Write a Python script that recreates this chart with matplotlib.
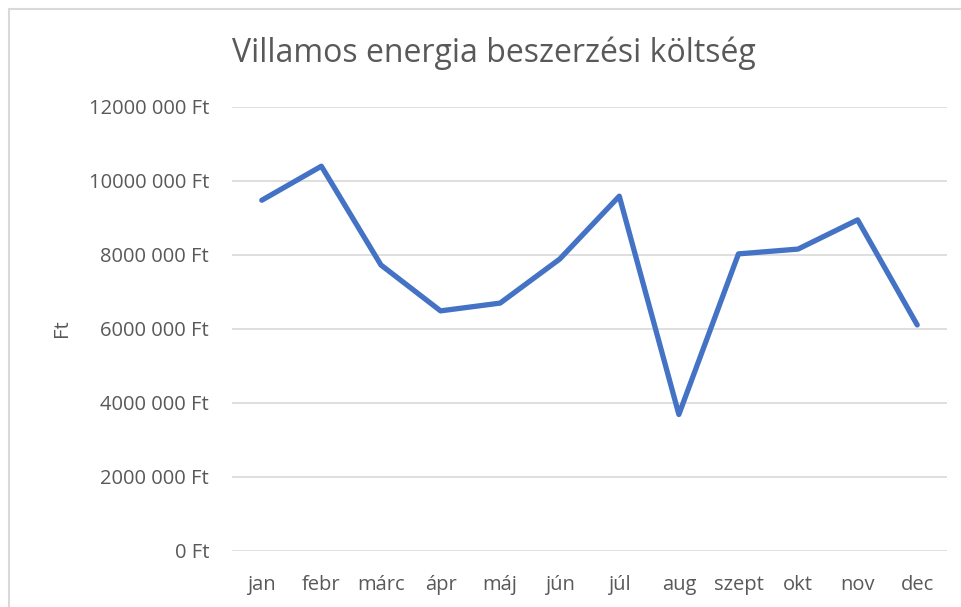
import matplotlib.pyplot as plt
from matplotlib.patches import Rectangle

months = ["jan", "febr", "márc", "ápr", "máj", "jún", "júl", "aug", "szept", "okt", "nov", "dec"]
cost = [9480000, 10400000, 7730000, 6490000, 6700000, 7890000, 9590000, 3690000, 8030000, 8160000, 8950000, 6110000]
yticks = [0, 2000000, 4000000, 6000000, 8000000, 10000000, 12000000]
ytick_labels = ["0 Ft", "2000 000 Ft", "4000 000 Ft", "6000 000 Ft", "8000 000 Ft", "10000 000 Ft", "12000 000 Ft"]

plt.rcParams['font.family'] = ['Open Sans', 'DejaVu Sans']
txt = '#595959'

fig = plt.figure(figsize=(9.61, 6.07), dpi=100)
ax = fig.add_axes([232 / 961, 1 - 551 / 607, (947 - 232) / 961, (551 - 107) / 607])

# outer chart border (left and top visible)
fig.patches.append(Rectangle((9 / 961, -0.1), 1.2, 1 - 9 / 607 + 0.1, transform=fig.transFigure,
                             fill=False, edgecolor='#d9d9d9', linewidth=1.5))

x = range(len(months))
ax.plot(x, cost, color='#4472C4', linewidth=3.8, solid_capstyle='round', solid_joinstyle='round', zorder=3)

ax.set_xlim(-0.5, len(months) - 0.5)
ax.set_ylim(0, 12000000)
ax.set_yticks(yticks)
ax.set_yticklabels(ytick_labels)
ax.set_xticks(list(x))
ax.set_xticklabels(months)
ax.grid(axis='y', color='#d9d9d9', linewidth=1.2)
ax.set_axisbelow(True)
for s in ax.spines.values():
    s.set_visible(False)
ax.tick_params(length=0, labelsize=14.5, colors=txt)
ax.tick_params(axis='y', pad=16.5)
ax.tick_params(axis='x', pad=17)

fig.text(62 / 961, 1 - 328 / 607, "Ft", rotation=90, ha='center', va='center', color=txt, fontsize=14.5)
fig.text(494 / 961, 1 - 53 / 607, "Villamos energia beszerzési költség", ha='center', va='center',
         color=txt, fontsize=23)

fig.savefig("out.png", dpi=100)
